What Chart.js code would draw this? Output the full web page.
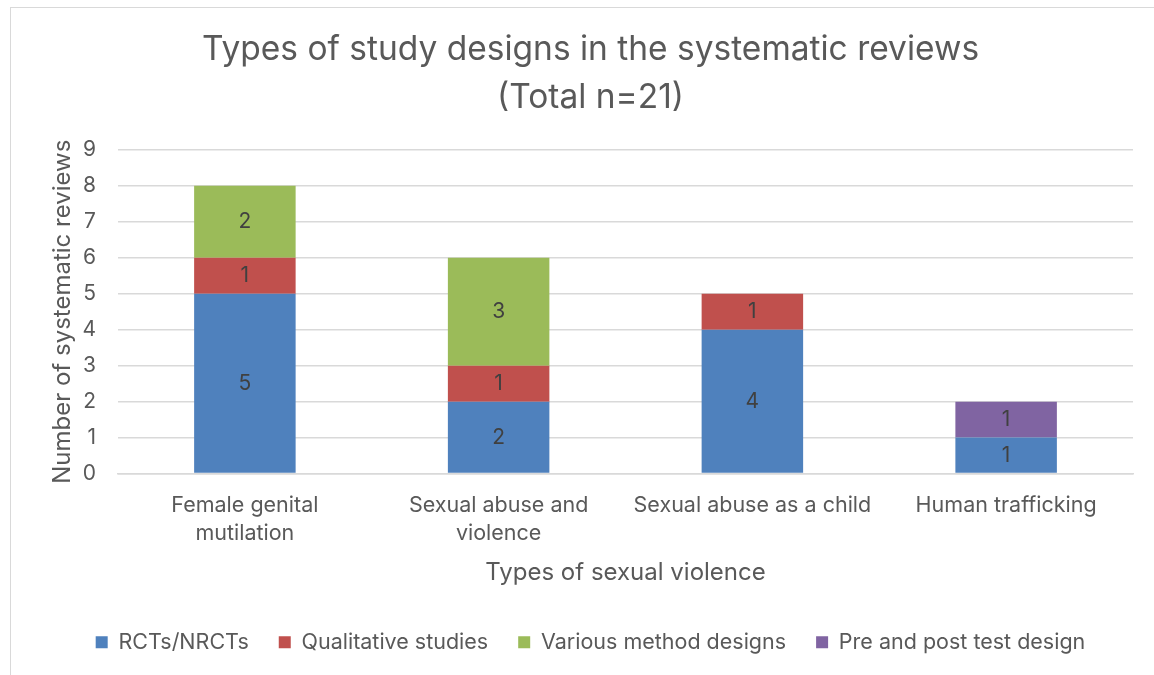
<!DOCTYPE html>
<html lang="en">
<head>
  <meta charset="UTF-8">
  <title>Types of study designs</title>
  <script src="https://cdn.jsdelivr.net/npm/chart.js"></script>
  <style>
    html, body { margin: 0; padding: 0; background: #fff; overflow: hidden; }
    #frame {
      position: absolute; left: 10px; top: 7px; width: 1160px; height: 700px;
      border: 1.5px solid #d9d9d9; box-sizing: border-box;
    }
    #wrap { position: absolute; left: 0; top: 0; width: 1154px; height: 675px; }
  </style>
</head>
<body>
<div id="frame"></div>
<div id="wrap"><canvas id="grafico" width="1154" height="675"></canvas></div>

<script>
  const categorias = [["Female genital", "mutilation"], ["Sexual abuse and", "violence"], "Sexual abuse as a child", "Human trafficking"];
  const rcts = [5, 2, 4, 1];
  const cualitativos = [1, 1, 1, 0];
  const variosMetodos = [2, 3, 0, 0];
  const prePost = [0, 0, 0, 1];

  const fuente = "Inter, 'Open Sans', sans-serif";
  const gris = "#595959";

  // etiquetas de valor dentro de cada segmento
  const etiquetas = {
    id: "etiquetas",
    afterDatasetsDraw(chart) {
      const ctx = chart.ctx;
      ctx.save();
      ctx.font = "21px " + fuente;
      ctx.fillStyle = "#404040";
      ctx.textAlign = "center";
      ctx.textBaseline = "middle";
      chart.data.datasets.forEach((ds, i) => {
        chart.getDatasetMeta(i).data.forEach((bar, j) => {
          const v = ds.data[j];
          if (!v) return;
          ctx.fillText(String(v), bar.x, (bar.y + bar.base) / 2);
        });
      });
      ctx.restore();
    }
  };

  new Chart(document.getElementById("grafico"), {
    type: "bar",
    data: {
      labels: categorias,
      datasets: [
        { label: "RCTs/NRCTs", data: rcts, backgroundColor: "#4f81bd" },
        { label: "Qualitative studies", data: cualitativos, backgroundColor: "#c0504d" },
        { label: "Various method designs", data: variosMetodos, backgroundColor: "#9bbb59" },
        { label: "Pre and post test design", data: prePost, backgroundColor: "#8064a2" }
      ]
    },
    options: {
      responsive: false,
      animation: false,
      layout: { padding: { left: 48, right: 21, top: 0, bottom: 12 } },
      datasets: { bar: { categoryPercentage: 1, barPercentage: 0.4, borderWidth: 0 } },
      plugins: {
        title: {
          display: true,
          text: ["Types of study designs in the systematic reviews", "(Total n=21)"],
          color: gris,
          font: { family: fuente, size: 33.5, weight: "normal", lineHeight: 1.43 },
          padding: { top: 26, bottom: 28 }
        },
        legend: {
          position: "bottom",
          labels: {
            color: gris,
            font: { family: fuente, size: 21.5 },
            boxWidth: 12, boxHeight: 12, padding: 30
          }
        },
        tooltip: { enabled: false }
      },
      scales: {
        x: {
          stacked: true,
          grid: { display: false },
          border: { color: "#d9d9d9", width: 1.5 },
          ticks: { color: gris, font: { family: fuente, size: 21.5, lineHeight: 1.3 }, maxRotation: 0, padding: 10 },
          title: { display: true, text: "Types of sexual violence", color: gris, font: { family: fuente, size: 24, lineHeight: 1 }, padding: { top: 3, bottom: 17 } }
        },
        y: {
          stacked: true,
          min: 0, max: 9,
          afterFit(scale) { scale.width = 70; },
          grid: { color: "#d9d9d9", lineWidth: 1.5, drawTicks: false },
          border: { display: false },
          ticks: { stepSize: 1, color: gris, font: { family: fuente, size: 21 }, padding: 22 },
          title: { display: true, text: "Number of systematic reviews", color: gris, font: { family: fuente, size: 24 }, padding: 0 }
        }
      }
    },
    plugins: [etiquetas]
  });
</script>
</body>
</html>
